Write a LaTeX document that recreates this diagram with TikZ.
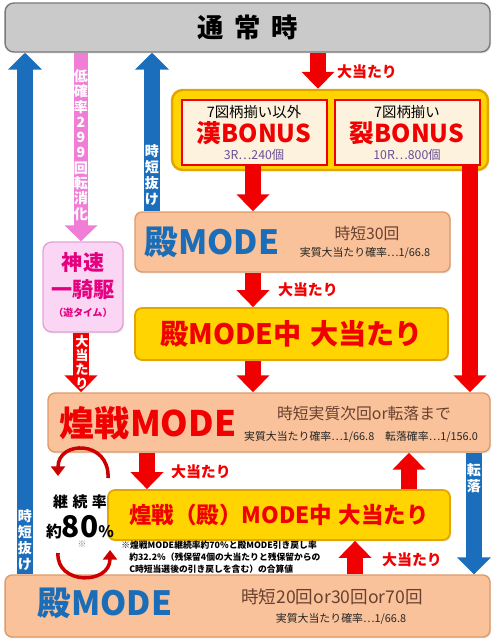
\documentclass[tikz,border=0pt]{standalone}
\usepackage{fontspec}
\setmainfont{Noto Sans CJK JP}
\usepackage{xcolor}
\usetikzlibrary{arrows.meta,positioning,shadows}
\definecolor{HitRed}{HTML}{F00000}
\definecolor{ModeBlue}{HTML}{1C6DB8}
\definecolor{ArrBlue}{HTML}{1A6EBC}
\definecolor{Peach}{HTML}{F9C29A}
\definecolor{PeachEdge}{HTML}{DE9A68}
\definecolor{Gold}{HTML}{FFD400}
\definecolor{GoldEdge}{HTML}{E3A600}
\definecolor{Cream}{HTML}{FDF2DE}
\definecolor{GreyBox}{HTML}{CACACA}
\definecolor{PinkArr}{HTML}{F07ED6}
\definecolor{PinkBox}{HTML}{FAD6F4}
\definecolor{PinkEdge}{HTML}{E2A2D8}
\definecolor{YuuPink}{HTML}{E5007F}
\definecolor{SpecBrown}{HTML}{6A4030}
\definecolor{RoundPurple}{HTML}{6A4E98}

\begin{document}
\begin{tikzpicture}[x=0.02cm, y=-0.02cm,
  shade/.style={drop shadow={opacity=0.2, shadow xshift=0.6pt, shadow yshift=-0.8pt}},
  grybox/.style={rectangle, rounded corners=5pt, draw=GreyBox!60!black, fill=GreyBox,
                 line width=0.8pt, shade},
  goldbox/.style={rectangle, rounded corners=6pt, draw=GoldEdge, fill=Gold,
                  line width=1.4pt, shade},
  bonbox/.style={rectangle, draw=HitRed, fill=Cream, line width=0.8pt},
  peachbox/.style={rectangle, rounded corners=4pt, draw=PeachEdge, fill=Peach,
                   line width=0.8pt, shade},
  yelbox/.style={rectangle, rounded corners=4pt, draw=GoldEdge, fill=Gold,
                 line width=1pt, shade, text=HitRed},
  pinkbox/.style={rectangle, rounded corners=5pt, draw=PinkEdge, fill=PinkBox,
                  line width=0.8pt, shade},
  modetxt/.style={inner sep=0, font=\fontsize{19}{19}\selectfont\bfseries},
  spectxt/.style={inner sep=0, text=SpecBrown, font=\fontsize{9}{9}\selectfont},
  probtxt/.style={inner sep=0, text=black!85, font=\fontsize{6.2}{6.2}\selectfont},
  hittxt/.style={inner sep=0, text=HitRed, font=\fontsize{8.5}{8.5}\selectfont\bfseries},
  vlab/.style={inner sep=0, text=white, align=center,
               font=\fontsize{8}{9}\selectfont\bfseries},
  redarr/.style={draw=HitRed, line width=0.34cm,
                 -{Triangle[width=0.64cm,length=0.34cm]}},
  bluearr/.style={draw=ArrBlue, line width=0.32cm,
                  -{Triangle[width=0.66cm,length=0.34cm]}},
  pinkarr/.style={draw=PinkArr, line width=0.3cm,
                  -{Triangle[width=0.64cm,length=0.32cm]}},
  looparr/.style={draw=HitRed!85!black, line width=2pt,
                  -{Triangle[width=8pt,length=5.5pt]}}
]
\useasboundingbox (0,0) rectangle (495,640);

% boxes
\node[grybox, minimum width=9.7cm, minimum height=0.98cm,
      font=\fontsize{15}{15}\selectfont\bfseries] (top) at (247.5,27.5)
      {通\hspace{0.4em}常\hspace{0.4em}時};

\node[goldbox, minimum width=6.32cm, minimum height=1.6cm] (gold) at (330,130) {};
\node[bonbox, minimum width=2.9cm, minimum height=1.3cm] (kan) at (254.5,132.5) {};
\node[bonbox, minimum width=2.9cm, minimum height=1.3cm] (retsu) at (407.5,132.5) {};
\node[inner sep=0, font=\fontsize{8.2}{8.2}\selectfont] (kan1) at (254,112) {7図柄揃い以外};
\node[inner sep=0, text=HitRed, font=\fontsize{14}{14}\selectfont\bfseries] (kan2) at (254,133) {漢BONUS};
\node[inner sep=0, text=RoundPurple, font=\fontsize{7}{7}\selectfont] (kan3) at (254,155) {3R…240個};
\node[inner sep=0, font=\fontsize{8.2}{8.2}\selectfont] (retsu1) at (407,112) {7図柄揃い};
\node[inner sep=0, text=HitRed, font=\fontsize{14}{14}\selectfont\bfseries] (retsu2) at (407,133) {裂BONUS};
\node[inner sep=0, text=RoundPurple, font=\fontsize{7}{7}\selectfont] (retsu3) at (407,155) {10R…800個};

\node[peachbox, minimum width=6.3cm, minimum height=1.2cm] (tono) at (292.5,242) {};
\node[modetxt, text=ModeBlue] (tonot) at (212,242) {殿MODE};
\node[spectxt] (tonos) at (367,233) {時短30回};
\node[probtxt] (tonop) at (365,253) {実質大当たり確率…1/66.8};

\node[yelbox, minimum width=6.26cm, minimum height=1.04cm,
      font=\fontsize{16}{16}\selectfont\bfseries] (tonohit) at (291.5,334)
      {殿MODE中\hspace{0.3em}大当たり};

\node[pinkbox, minimum width=1.6cm, minimum height=1.8cm] (yuu) at (83,287) {};
\node[inner sep=0, text=YuuPink, align=center,
      font=\fontsize{12}{15}\selectfont\bfseries] (yuut) at (83,276) {神速\\一騎駆};
\node[inner sep=0, text=YuuPink, font=\fontsize{5.6}{5.6}\selectfont\bfseries] (yuus) at (83,313) {（遊タイム）};

\node[peachbox, minimum width=8.84cm, minimum height=1.18cm] (kou) at (269,422.5) {};
\node[modetxt, text=HitRed, font=\fontsize{20}{20}\selectfont\bfseries] (kout) at (148,423) {煌戦MODE};
\node[spectxt] (kous) at (364,413) {時短実質次回or転落まで};
\node[probtxt] (koup) at (361,437) {実質大当たり確率…1/66.8\hspace{1em}転落確率…1/156.0};

\node[yelbox, minimum width=6.84cm, minimum height=1.0cm,
      font=\fontsize{12.8}{12.8}\selectfont\bfseries] (kouhit) at (279,515)
      {煌戦（殿）MODE中\hspace{0.3em}大当たり};

\node[peachbox, minimum width=9.7cm, minimum height=1.24cm] (tono2) at (247.5,606) {};
\node[modetxt, text=ModeBlue] (tono2t) at (105,603) {殿MODE};
\node[spectxt, font=\fontsize{10}{10}\selectfont] (tono2s) at (332,597) {時短20回or30回or70回};
\node[probtxt] (tono2p) at (341,619) {実質大当たり確率…1/66.8};

% continuation rate
\node[inner sep=0, font=\fontsize{8.5}{8.5}\selectfont\bfseries] (rate) at (80,502)
      {継\hspace{0.3em}続\hspace{0.3em}率};
\node[inner sep=0, font=\fontsize{9}{9}\selectfont\bfseries] (pct) at (80,527)
      {約{\fontsize{17}{17}\selectfont 80}\%};
\node[inner sep=0, text=gray, font=\fontsize{5}{5}\selectfont] (kome) at (82,544) {※};
\node[inner sep=0, anchor=north west, align=left,
      font=\fontsize{5}{6.8}\selectfont\bfseries] (note) at (121,541)
      {※煌戦MODE継続率約70\%と殿MODE引き戻し率\\
       \hspace{0.9em}約32.2\%（残保留4個の大当たりと残保留からの\\
       \hspace{0.9em}C時短当選後の引き戻しを含む）の合算値};

% arrow columns
\coordinate (xa) at (25,0);
\coordinate (xb) at (81,0);
\coordinate (xc) at (152,0);
\coordinate (xd) at (318,0);
\coordinate (xe) at (253,0);
\coordinate (xf) at (470,0);
\coordinate (xg) at (147,0);
\coordinate (xh) at (409,0);
\coordinate (xi) at (474,0);
\coordinate (xj) at (355,0);

\draw[bluearr] (tono2.north -| xa) -- (top.south -| xa);
\draw[pinkarr] (top.south -| xb) -- (yuu.north -| xb);
\draw[bluearr] (tono.north -| xc) -- (top.south -| xc);
\draw[redarr] (top.south -| xd) -- (gold.north -| xd);
\draw[redarr] (kan.south -| xe) -- (tono.north -| xe);
\draw[redarr] (retsu.south -| xf) -- (kou.north -| xf);
\draw[redarr] (tono.south -| xe) -- (tonohit.north -| xe);
\draw[redarr] (tonohit.south -| xe) -- (kou.north -| xe);
\draw[redarr] (yuu.south -| xb) -- (kou.north -| xb);
\draw[redarr] (kou.south -| xg) -- (kouhit.north -| xg);
\draw[redarr] (kouhit.north -| xh) -- (kou.south -| xh);
\draw[bluearr] (kou.south -| xi) -- (tono2.north -| xi);
\draw[redarr] (tono2.north -| xj) -- (kouhit.south -| xj);

% arrow labels
\node[vlab] (lab1) at (25,540) {時\\短\\抜\\け};
\node[vlab] (lab2) at (152,175) {時\\短\\抜\\け};
\node[vlab, font=\fontsize{8}{8.7}\selectfont\bfseries] (lab3) at (81,145)
      {低\\確\\率\\2\\9\\9\\回\\転\\消\\化};
\node[vlab, font=\fontsize{7.5}{8}\selectfont\bfseries] (lab4) at (82,362) {大\\当\\た\\り};
\node[vlab] (lab5) at (474,478) {転\\落};
\node[hittxt] (hit1) at (367,72) {大当たり};
\node[hittxt] (hit2) at (308,290) {大当たり};
\node[hittxt] (hit3) at (201,472) {大当たり};
\node[hittxt] (hit4) at (412,560) {大当たり};

% loop arrows
\coordinate (la1) at (108,478);
\coordinate (la2) at (58,476);
\coordinate (lb1) at (58,553);
\coordinate (lb2) at (110,550);
\draw[looparr] (la1) .. controls (110,440) and (58,440) .. (la2);
\draw[looparr] (lb1) .. controls (56,585) and (110,585) .. (lb2);
\end{tikzpicture}
\end{document}
